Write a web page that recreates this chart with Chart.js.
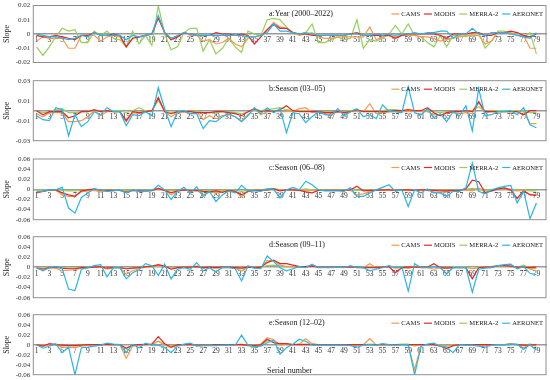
<!DOCTYPE html>
<html><head><meta charset="utf-8">
<script src="https://cdn.jsdelivr.net/npm/chart.js@4.4.1/dist/chart.umd.min.js"></script>
<style>
html,body{margin:0;padding:0;background:#fff;width:550px;height:380px;overflow:hidden;position:relative}
canvas{position:absolute;left:0}
</style></head><body>
<script>
const categories = [1,2,3,4,5,6,7,8,9,10,11,12,13,14,15,16,17,18,19,20,21,22,23,24,25,26,27,28,29,30,31,32,33,34,35,36,37,38,39,40,41,42,43,44,45,46,47,48,49,50,51,52,53,54,55,56,57,58,59,60,61,62,63,64,65,66,67,68,69,70,71,72,73,74,75,76,77,78,79];
const xTickLabels = [1,3,5,7,9,11,13,15,17,19,21,23,25,27,29,31,33,35,37,39,41,43,45,47,49,51,53,55,57,59,61,63,65,67,69,71,73,75,77,79];
const seriesNames = ['CAMS','MODIS','MERRA-2','AERONET'];
const panelTitles = ['a:Year (2000\u20132022)','b:Season (03\u201305)','c:Season (06\u201308)','d:Season (09\u201311)','e:Season (12\u201302)'];
const yTicksA = [-0.02,-0.01,0,0.01,0.02];
const yTicksB = [-0.03,-0.01,0.01,0.03];
const yTicksCDE = [-0.06,-0.04,-0.02,0,0.02,0.04,0.06];

// a: Year
const camsA = [-0.005,-0.002,-0.003,-0.003,-0.003,-0.010,-0.010,-0.001,-0.001,-0.001,
-0.005,-0.002,-0.001,-0.002,-0.009,-0.003,-0.002,-0.001,0.000,0.012,
0.001,-0.004,-0.002,0.001,-0.001,-0.001,-0.005,-0.004,-0.007,-0.006,
-0.003,-0.007,-0.009,-0.003,-0.002,-0.001,0.003,0.008,0.005,0.004,
0.001,-0.001,0.000,0.001,-0.002,-0.003,-0.003,-0.002,-0.002,-0.002,
-0.002,-0.002,0.005,-0.004,-0.002,-0.001,-0.002,-0.001,-0.001,-0.001,
-0.002,-0.002,-0.003,-0.005,-0.004,-0.003,-0.002,-0.001,-0.001,-0.001,
-0.007,-0.005,0.001,0.001,0.001,-0.001,-0.001,-0.010,-0.010];
const modisA = [-0.001,-0.002,-0.002,-0.001,-0.002,-0.003,-0.004,-0.001,-0.001,0.001,
-0.001,-0.001,0.000,-0.001,-0.009,-0.003,-0.002,-0.001,0.000,0.011,
0.001,-0.004,-0.002,0.001,0.000,-0.001,-0.001,-0.001,0.001,0.000,
0.000,-0.001,0.000,-0.001,-0.007,-0.002,0.003,0.007,0.004,0.004,
0.001,0.000,0.000,-0.001,-0.001,-0.001,-0.001,-0.001,-0.001,0.000,
0.001,-0.001,-0.001,-0.001,-0.001,-0.001,-0.003,-0.001,0.000,0.000,
0.000,0.000,0.000,-0.001,-0.003,0.000,0.000,0.000,0.001,0.001,
-0.001,-0.001,0.001,0.001,0.002,0.001,-0.001,-0.002,0.000];
const merraA = [-0.009,-0.015,-0.009,-0.002,0.004,0.002,0.003,-0.006,-0.006,0.002,
-0.001,0.002,-0.003,-0.004,-0.009,0.002,-0.007,-0.001,-0.008,0.020,
0.000,-0.011,-0.009,0.001,0.004,0.004,-0.012,-0.004,-0.014,-0.010,
-0.003,-0.009,-0.013,0.002,0.000,-0.001,0.010,0.011,0.010,0.005,
0.001,0.000,0.001,0.007,-0.006,-0.006,-0.004,-0.002,-0.004,-0.003,
0.010,-0.010,-0.004,-0.005,-0.003,0.000,0.006,0.000,0.007,-0.001,
-0.002,-0.006,-0.009,-0.001,-0.009,-0.001,-0.001,-0.002,0.000,0.001,
-0.010,-0.005,0.002,0.002,0.000,0.001,-0.002,0.001,-0.014];
const aeronetA = [0.000,-0.001,-0.002,-0.002,-0.003,-0.004,-0.003,-0.001,-0.002,0.001,
-0.001,-0.001,-0.001,-0.001,-0.004,-0.001,-0.002,-0.001,0.000,0.013,
0.001,-0.003,-0.001,0.001,0.000,-0.001,-0.001,-0.001,-0.001,-0.001,
-0.001,-0.001,-0.001,-0.002,-0.002,-0.001,0.001,0.007,0.002,0.002,
0.001,0.000,0.001,0.000,-0.001,-0.001,-0.001,-0.001,-0.001,0.000,
0.000,-0.001,-0.001,0.000,-0.001,0.000,-0.001,0.000,0.000,0.001,
0.000,0.001,0.001,0.002,0.002,-0.003,0.000,0.000,0.004,0.000,
-0.001,0.001,0.001,0.001,0.000,-0.001,-0.002,-0.003,0.001];

// b: Season 03-05
const camsB = [-0.003,-0.006,-0.002,-0.002,-0.002,-0.011,-0.011,-0.010,-0.006,0.000,
-0.005,-0.001,-0.001,-0.001,-0.011,-0.002,-0.003,-0.001,-0.001,0.013,
-0.001,-0.006,-0.002,-0.001,-0.003,-0.001,-0.009,-0.005,-0.008,-0.005,
-0.004,-0.006,-0.010,-0.004,0.002,-0.004,-0.001,-0.001,-0.001,-0.001,
-0.001,0.002,0.003,-0.002,-0.001,-0.003,-0.004,-0.001,-0.002,-0.001,
-0.001,-0.001,0.007,-0.003,-0.002,-0.001,-0.001,-0.001,-0.001,-0.001,
-0.001,-0.001,-0.004,-0.005,-0.002,-0.002,-0.003,-0.002,-0.003,0.008,
-0.002,-0.001,-0.001,-0.001,-0.001,-0.001,-0.001,-0.013,-0.013];
const modisB = [0.000,-0.004,-0.001,-0.001,-0.001,-0.007,-0.005,-0.001,-0.001,0.001,
-0.001,0.000,-0.001,-0.001,-0.010,-0.001,-0.002,-0.001,0.000,0.013,
-0.001,-0.003,-0.001,-0.001,-0.001,-0.002,-0.002,-0.002,-0.001,-0.001,
-0.002,-0.003,-0.005,-0.001,0.002,-0.001,0.000,-0.001,0.001,0.005,
0.000,-0.001,-0.001,-0.001,-0.001,-0.002,-0.002,-0.001,-0.002,-0.001,
0.001,-0.001,-0.001,-0.001,-0.001,-0.001,0.000,0.000,0.001,0.000,
0.000,0.003,-0.002,-0.005,-0.002,-0.001,-0.001,0.000,-0.001,0.009,
-0.001,-0.001,-0.001,-0.001,-0.001,-0.001,-0.004,0.000,0.000];
const merraB = [0.000,-0.002,-0.001,0.001,0.002,-0.002,-0.002,-0.001,-0.001,0.000,
-0.001,0.000,0.000,0.000,-0.002,0.000,0.003,0.000,0.000,0.010,
0.000,-0.002,-0.001,0.000,-0.001,0.000,-0.002,-0.002,-0.002,-0.001,
-0.001,-0.002,-0.003,-0.001,0.002,0.000,0.001,0.002,0.003,0.001,
0.000,0.000,0.000,-0.001,-0.001,-0.001,-0.001,-0.001,-0.001,0.000,
0.001,-0.001,0.000,-0.001,0.000,0.001,0.001,0.000,0.000,0.000,
0.000,0.000,-0.001,-0.002,-0.001,-0.001,-0.001,0.000,0.000,0.004,
-0.001,0.000,0.000,0.000,0.000,0.000,0.000,-0.002,-0.002];
const aeronetB = [-0.005,-0.009,-0.010,0.003,0.001,-0.025,-0.004,-0.016,-0.011,-0.001,
-0.004,0.003,-0.001,-0.001,-0.015,-0.004,-0.005,-0.001,-0.005,0.023,
0.002,-0.016,-0.001,0.000,-0.003,-0.003,-0.018,-0.010,-0.011,-0.006,
-0.003,-0.006,-0.011,-0.005,0.003,-0.003,0.003,-0.002,0.002,-0.022,
-0.002,-0.003,-0.012,-0.006,-0.001,-0.004,-0.005,0.002,-0.005,-0.001,
0.002,-0.006,-0.004,-0.008,0.006,-0.001,-0.001,-0.002,0.024,-0.002,
-0.004,0.002,-0.007,-0.003,-0.011,-0.001,-0.005,0.005,-0.020,0.022,
-0.005,-0.004,-0.001,-0.001,0.000,-0.004,0.003,-0.014,-0.017];

// c: Season 06-08
const camsC = [-0.003,-0.004,-0.002,-0.002,-0.011,-0.014,-0.014,-0.005,-0.003,-0.002,
-0.005,-0.003,-0.002,-0.002,-0.004,-0.002,-0.003,-0.003,-0.002,0.001,
-0.002,-0.011,-0.004,-0.001,-0.003,-0.002,-0.011,-0.005,-0.007,-0.005,
-0.003,-0.005,-0.014,-0.004,-0.002,-0.002,-0.001,0.001,-0.002,-0.001,
-0.001,-0.001,-0.003,-0.002,-0.002,-0.002,-0.002,-0.002,-0.002,-0.002,
-0.011,-0.009,-0.004,-0.002,-0.002,-0.002,-0.002,-0.002,-0.002,-0.002,
-0.002,-0.002,-0.005,-0.007,-0.004,-0.003,-0.002,-0.001,-0.003,0.003,
-0.006,-0.003,0.001,0.002,-0.002,-0.003,-0.002,-0.010,-0.011];
const modisC = [-0.007,-0.004,-0.001,-0.001,-0.007,-0.011,-0.014,-0.003,-0.001,0.001,
-0.002,-0.002,-0.002,-0.002,-0.006,-0.002,-0.003,-0.003,-0.002,0.002,
-0.002,-0.007,-0.003,-0.001,-0.003,-0.002,-0.004,-0.005,-0.003,-0.006,
-0.002,-0.004,-0.011,-0.004,-0.002,-0.002,-0.001,0.001,-0.003,-0.001,
-0.001,-0.002,-0.005,-0.007,-0.002,-0.002,-0.002,-0.002,-0.002,-0.001,
0.006,-0.003,-0.002,-0.002,-0.001,-0.001,-0.002,-0.001,-0.001,-0.002,
-0.001,-0.001,-0.002,-0.003,-0.003,-0.002,-0.002,0.001,0.018,0.015,
-0.007,-0.003,0.001,0.003,-0.001,-0.018,-0.003,-0.011,-0.012];
const merraC = [-0.001,-0.002,-0.001,-0.001,-0.002,-0.003,-0.003,-0.002,-0.001,0.000,
-0.001,-0.001,-0.001,-0.001,-0.002,-0.001,-0.002,-0.002,-0.001,0.002,
-0.001,-0.003,-0.002,0.000,-0.002,-0.001,-0.003,-0.002,-0.003,-0.002,
-0.001,-0.002,-0.004,-0.002,-0.001,-0.001,0.001,0.002,-0.001,-0.001,
0.000,-0.001,0.001,-0.001,-0.001,-0.001,-0.001,-0.001,-0.001,0.000,
-0.002,-0.002,-0.001,-0.001,-0.001,0.000,-0.001,-0.001,-0.002,-0.001,
-0.001,-0.001,-0.002,-0.002,-0.002,-0.001,-0.001,0.000,0.002,0.001,
-0.002,-0.001,0.001,0.001,0.000,-0.002,-0.001,-0.003,-0.003];
const aeronetC = [-0.005,-0.004,-0.001,-0.001,0.004,-0.037,-0.047,-0.016,-0.007,0.001,
-0.001,-0.004,-0.003,-0.001,-0.007,-0.001,-0.004,-0.003,-0.003,0.008,
-0.001,-0.020,-0.004,0.004,-0.007,0.005,-0.014,-0.004,-0.024,-0.011,
-0.003,-0.007,0.008,-0.003,-0.003,-0.004,0.001,0.000,-0.017,-0.001,
0.004,-0.001,0.016,0.009,-0.001,-0.003,-0.003,-0.003,-0.004,0.003,
-0.014,-0.014,-0.007,-0.001,0.004,0.009,-0.004,-0.001,-0.034,-0.001,
-0.007,0.001,-0.007,-0.007,-0.014,-0.004,-0.004,0.003,0.052,-0.004,
-0.009,-0.001,0.003,0.006,0.008,-0.027,-0.003,-0.058,-0.027];

// d: Season 09-11
const camsD = [-0.001,-0.003,-0.002,-0.002,-0.007,-0.006,-0.005,-0.002,-0.001,0.000,
0.001,-0.004,-0.001,-0.001,-0.014,-0.007,-0.003,0.000,0.001,0.003,
0.002,-0.003,-0.001,0.001,0.001,0.002,-0.002,-0.001,-0.002,-0.001,
-0.001,-0.002,-0.007,0.000,-0.001,-0.001,0.013,0.013,0.004,0.001,
0.001,0.001,0.001,0.003,0.000,0.000,0.000,0.000,0.000,0.001,
-0.001,-0.001,0.007,-0.001,0.000,0.001,-0.002,-0.001,-0.002,0.001,
-0.001,-0.001,-0.004,-0.001,-0.002,-0.001,0.000,0.000,-0.003,-0.001,
0.000,0.001,0.003,0.003,0.002,0.000,0.001,-0.004,-0.007];
const modisD = [-0.002,-0.004,-0.001,0.000,-0.002,-0.003,-0.003,-0.001,-0.001,0.000,
0.001,-0.002,-0.001,-0.001,-0.003,-0.002,-0.001,0.001,0.002,0.005,
0.002,-0.004,-0.001,0.000,0.000,0.001,-0.001,0.000,-0.001,0.000,
0.000,-0.001,-0.002,0.000,-0.001,0.000,0.009,0.014,0.007,0.007,
0.004,0.001,0.001,0.002,0.000,0.000,0.000,0.000,0.000,0.000,
0.000,-0.001,-0.001,-0.001,0.000,0.001,-0.011,-0.001,0.000,0.000,
0.000,0.000,0.007,-0.001,-0.002,-0.001,-0.001,-0.001,-0.023,-0.001,
0.000,0.000,0.003,0.003,0.002,0.000,0.000,-0.001,0.000];
const merraD = [-0.001,-0.002,-0.001,0.000,-0.002,-0.002,-0.002,-0.001,-0.001,0.000,
0.001,-0.001,-0.001,0.000,-0.003,-0.002,-0.001,0.001,0.001,0.002,
0.001,-0.002,-0.001,0.000,0.000,0.001,-0.001,0.000,-0.001,0.000,
0.000,-0.001,-0.003,0.000,-0.001,0.000,0.003,0.004,0.002,0.001,
0.001,0.000,0.000,0.002,0.000,0.000,0.000,0.000,0.000,0.001,
0.000,-0.001,0.001,-0.001,0.000,0.002,-0.001,0.000,-0.002,0.001,
0.000,0.000,0.001,-0.001,-0.001,0.000,0.000,0.000,-0.003,0.000,
0.000,0.001,0.002,0.002,0.001,0.000,0.004,-0.002,-0.003];
const aeronetD = [-0.001,-0.007,-0.001,0.001,-0.002,-0.043,-0.046,-0.004,-0.001,0.003,
0.005,-0.019,-0.001,-0.001,-0.023,-0.011,-0.005,0.007,0.003,-0.016,
0.006,-0.023,-0.004,-0.001,-0.004,0.009,-0.007,-0.001,-0.009,-0.001,
-0.001,-0.003,-0.027,0.003,-0.002,-0.003,0.022,0.011,-0.001,-0.007,
-0.003,0.001,-0.001,0.006,-0.001,-0.001,-0.001,0.000,-0.001,0.003,
-0.001,-0.001,-0.007,-0.004,-0.001,0.003,-0.001,0.001,-0.047,0.007,
-0.001,-0.001,0.001,-0.001,-0.013,-0.001,-0.001,-0.001,-0.049,-0.004,
-0.002,-0.001,0.003,0.005,0.006,-0.003,0.001,-0.012,-0.015];

// e: Season 12-02
const camsE = [0.000,-0.003,-0.001,0.000,-0.005,-0.006,-0.006,-0.003,-0.001,0.000,
0.000,0.001,0.000,0.000,-0.027,-0.003,-0.001,0.000,0.000,0.007,
-0.001,-0.006,-0.001,0.000,0.000,-0.002,-0.002,-0.001,-0.001,0.000,
0.000,0.000,-0.001,-0.002,-0.002,0.001,0.014,0.010,-0.001,0.001,
0.000,0.001,0.012,0.002,0.000,0.000,0.000,0.000,0.000,0.000,
-0.001,0.000,0.012,-0.001,0.000,0.000,0.000,0.000,0.000,-0.050,
-0.001,0.000,0.000,-0.002,-0.003,-0.002,0.000,0.000,0.000,-0.001,
-0.002,0.000,0.000,0.000,0.001,0.000,-0.006,0.001,-0.003];
const modisE = [0.000,-0.003,0.002,0.000,-0.001,-0.002,-0.002,-0.001,0.000,0.000,
0.000,0.000,0.000,0.000,-0.007,-0.001,0.000,0.000,0.001,0.016,
0.002,-0.005,0.000,0.000,0.000,-0.001,-0.001,-0.001,0.000,0.000,
0.000,0.000,0.000,-0.001,-0.002,0.000,0.011,0.004,0.002,0.002,
0.000,0.000,0.000,0.000,0.000,0.000,0.000,0.000,0.000,0.000,
0.000,0.000,0.000,0.000,0.000,0.000,0.000,0.000,0.000,0.000,
0.000,0.000,0.000,-0.003,-0.008,-0.002,0.000,0.000,0.000,0.000,
0.000,0.000,0.000,0.000,0.001,0.000,-0.001,-0.001,0.000];
const merraE = [0.000,-0.002,0.000,0.001,-0.002,-0.002,-0.002,-0.001,0.000,0.000,
0.000,0.001,0.000,0.000,-0.008,-0.001,0.000,0.001,0.000,0.007,
0.001,-0.003,0.000,0.000,0.001,-0.001,-0.001,0.000,0.000,0.000,
0.000,0.000,0.001,-0.002,-0.006,-0.001,0.008,0.005,0.000,0.001,
0.000,0.001,0.001,0.000,0.000,0.000,0.000,0.000,0.000,0.000,
0.000,0.000,0.001,0.000,0.000,0.000,0.000,0.001,0.001,-0.003,
0.000,0.000,0.001,-0.001,-0.002,-0.001,0.000,0.000,0.000,0.000,
-0.001,0.000,0.000,0.000,0.001,0.000,-0.002,0.001,-0.001];
const aeronetE = [0.000,-0.007,-0.003,0.002,-0.016,-0.005,-0.060,-0.006,-0.005,-0.003,
-0.001,0.003,0.001,0.000,-0.016,0.001,-0.006,0.003,-0.001,-0.001,
-0.005,-0.016,-0.003,0.001,0.003,-0.003,-0.002,-0.002,-0.002,-0.001,
-0.001,-0.001,0.019,-0.001,-0.004,-0.003,0.004,0.009,-0.019,-0.006,
0.001,0.011,0.007,-0.001,-0.001,-0.001,-0.001,-0.001,-0.001,-0.002,
-0.005,-0.001,0.000,-0.001,0.002,0.000,-0.001,0.000,0.000,-0.060,
-0.003,0.001,0.003,-0.003,-0.005,-0.016,0.000,-0.001,-0.001,-0.003,
-0.005,-0.001,0.000,0.000,0.000,0.001,-0.009,0.000,-0.011];

// ---------- styling & layout ----------
const FONT = "'Liberation Serif','Times New Roman',serif";
const seriesColors = ['#F59A4E','#E3262A','#96D05A','#27B5E8'];
const seriesOrder = [2,1,3,0];

const panels = [
  {title: panelTitles[0], ticks: yTicksA, series: [camsA, modisA, merraA, aeronetA], top: 5.5, bottom: 62.5},
  {title: panelTitles[1], ticks: yTicksB, series: [camsB, modisB, merraB, aeronetB], top: 80.7, bottom: 140.7},
  {title: panelTitles[2], ticks: yTicksCDE, series: [camsC, modisC, merraC, aeronetC], top: 159, bottom: 219.7},
  {title: panelTitles[3], ticks: yTicksCDE, series: [camsD, modisD, merraD, aeronetD], top: 236.7, bottom: 297.7},
  {title: panelTitles[4], ticks: yTicksCDE, series: [camsE, modisE, merraE, aeronetE], top: 314.7, bottom: 374.7, xTitle: 'Serial number'}
];

const decor = {
  id: 'decor',
  afterDraw(chart) {
    const p = chart.options.plugins.decor;
    const {ctx, chartArea: a} = chart;
    ctx.save();
    // plot frame
    ctx.strokeStyle = '#8f8f8f';
    ctx.lineWidth = 1;
    ctx.strokeRect(a.left, a.top, a.right - a.left, a.bottom - a.top);
    // panel title
    const rowY = a.top + 8.5;
    ctx.fillStyle = '#1a1a1a';
    ctx.textBaseline = 'middle';
    ctx.textAlign = 'left';
    ctx.font = '8px ' + FONT;
    ctx.fillText(p.title, 269, rowY);
    // legend
    ctx.font = '6.6px ' + FONT;
    const lineLen = 8, gapLT = 2, gapItem = 4;
    const widths = seriesNames.map(n => ctx.measureText(n).width);
    let total = 0;
    widths.forEach((w, i) => { total += lineLen + gapLT + w + (i < widths.length - 1 ? gapItem : 0); });
    let x = a.right - 3 - total;
    seriesNames.forEach((n, i) => {
      ctx.strokeStyle = seriesColors[i];
      ctx.lineWidth = 1.2;
      ctx.beginPath();
      ctx.moveTo(x, rowY);
      ctx.lineTo(x + lineLen, rowY);
      ctx.stroke();
      x += lineLen + gapLT;
      ctx.fillStyle = '#1a1a1a';
      ctx.fillText(n, x, rowY + 0.3);
      x += widths[i] + gapItem;
    });
    // x-axis title
    if (p.xTitle) {
      ctx.font = '8px ' + FONT;
      ctx.textAlign = 'center';
      ctx.fillText(p.xTitle, (a.left + a.right) / 2, a.bottom - 4);
    }
    ctx.restore();
  }
};

const fmtTick = v => String(Math.round(v * 100) / 100);

panels.forEach(p => {
  const cv = document.createElement('canvas');
  const ctop = Math.floor(p.top) - 10;
  const cbot = Math.ceil(p.bottom) + 10;
  cv.width = 550;
  cv.height = cbot - ctop;
  cv.style.top = ctop + 'px';
  cv.style.width = '550px';
  cv.style.height = (cbot - ctop) + 'px';
  document.body.appendChild(cv);

  new Chart(cv, {
    type: 'line',
    data: {
      labels: categories.concat(['']),
      datasets: seriesNames.map((n, i) => ({
        label: n,
        data: p.series[i],
        borderColor: seriesColors[i],
        backgroundColor: seriesColors[i],
        borderWidth: 1.2,
        pointRadius: 0,
        pointHoverRadius: 0,
        tension: 0,
        fill: false,
        order: seriesOrder[i]
      }))
    },
    options: {
      responsive: false,
      animation: false,
      devicePixelRatio: 1,
      events: [],
      layout: {padding: {top: p.top - ctop, bottom: cbot - p.bottom, left: 0, right: 4}},
      plugins: {
        legend: {display: false},
        tooltip: {enabled: false},
        decor: {title: p.title, xTitle: p.xTitle || ''}
      },
      scales: {
        x: {
          type: 'category',
          offset: true,
          position: {y: 0},
          grid: {display: false, drawTicks: false},
          border: {display: true, color: '#9a9a9a', width: 1.5},
          ticks: {
            autoSkip: false, maxRotation: 0, minRotation: 0, padding: 2,
            color: '#333', font: {family: FONT, size: 7.5},
            callback: function (v) {
              const lab = this.getLabelForValue(v);
              return xTickLabels.includes(Number(lab)) && lab !== '' ? String(lab) : '';
            }
          }
        },
        y: {
          min: p.ticks[0],
          max: p.ticks[p.ticks.length - 1],
          afterBuildTicks: s => { s.ticks = p.ticks.map(v => ({value: v})); },
          afterFit: s => { s.width = 33.3; },
          grid: {display: false, drawTicks: false},
          border: {display: false},
          ticks: {autoSkip: false, padding: 3, color: '#333', font: {family: FONT, size: 7}, callback: v => fmtTick(v)},
          title: {display: true, text: 'Slope', color: '#1a1a1a', font: {family: FONT, size: 8}, padding: {top: 2, bottom: 0}}
        }
      }
    },
    plugins: [decor]
  });
});
</script>
</body></html>
